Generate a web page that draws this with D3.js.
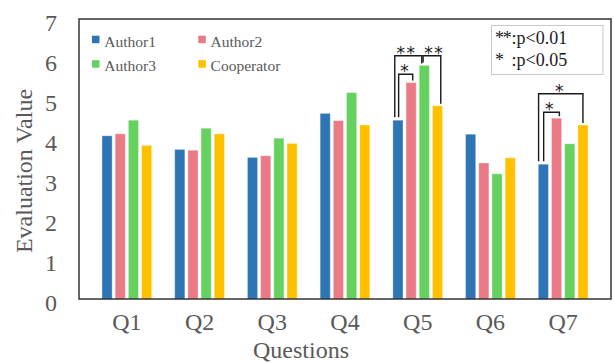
<!DOCTYPE html>
<html>
<head>
<meta charset="utf-8">
<script src="https://cdn.jsdelivr.net/npm/d3@7"></script>
<style>
  html, body { margin: 0; padding: 0; background: #fff; }
  svg { display: block; }
</style>
</head>
<body>
<svg id="chart" width="614" height="363"></svg>
<script>
// Questions on the x axis
const questions = ["Q1", "Q2", "Q3", "Q4", "Q5", "Q6", "Q7"];

// Mean evaluation per rater group
const series = ["Author1", "Author2", "Author3", "Cooperator"];
const author1    = [4.08, 3.74, 3.54, 4.64, 4.47, 4.12, 3.37];
const author2    = [4.13, 3.72, 3.58, 4.46, 5.41, 3.40, 4.52];
const author3    = [4.47, 4.27, 4.02, 5.16, 5.84, 3.13, 3.88];
const cooperator = [3.84, 4.13, 3.89, 4.35, 4.83, 3.53, 4.35];

const yTicks = [0, 1, 2, 3, 4, 5, 6, 7];

// Significance brackets: pair of series compared within a question, bracket level (value units)
const sigPairs = [
  { q: "Q5", a: 0, b: 2, level: 6.08, label: "**" },
  { q: "Q5", a: 0, b: 1, level: 5.62, label: "*" },
  { q: "Q5", a: 2, b: 3, level: 6.08, label: "**" },
  { q: "Q7", a: 0, b: 3, level: 5.13, label: "*" },
  { q: "Q7", a: 0, b: 1, level: 4.67, label: "*" }
];
const sigMarks = ["**", "*"];
const sigNotes = [":p<0.01", ":p<0.05"];

// ---- layout ----
const values = [author1, author2, author3, cooperator];
const colors = ["#2E75B6", "#EA7A85", "#65D15E", "#FFC000"];
// bracket leg positions (fraction of bar width) and label nudge (px)
const legOffsets = [[0.19, 0.25], [0.57, 0.66], [0.38, 0.82], [0.03, 0.5], [0.53, 0.78]];
const labelNudge = [-1.7, -1.2, 2.3, -1.5, -2.3];

const plot = { left: 79, right: 611, top: 19, bottom: 299 };
const svg = d3.select("#chart");
const serif = "'Liberation Serif', 'Times New Roman', serif";
const textGray = "#595959";

const x = d3.scaleBand().domain(questions).range([plot.left, plot.right]).padding(0.316);
const x1 = d3.scaleBand().domain(d3.range(series.length)).range([0, x.bandwidth()]).paddingInner(0.23);
const y = d3.scaleLinear().domain([0, 7]).range([plot.bottom, plot.top]);

// bars
const rows = [];
questions.forEach((q, qi) => series.forEach((s, si) => rows.push({ q, si, v: values[si][qi] })));
svg.append("g").selectAll("rect").data(rows).join("rect")
  .attr("x", d => x(d.q) + x1(d.si))
  .attr("y", d => y(d.v))
  .attr("width", x1.bandwidth())
  .attr("height", d => y(0) - y(d.v))
  .attr("fill", d => colors[d.si])
  .attr("stroke", "rgba(255,255,255,0.35)")
  .attr("stroke-width", 1);

// plot frame
svg.append("rect")
  .attr("x", plot.left).attr("y", plot.top)
  .attr("width", plot.right - plot.left).attr("height", plot.bottom - plot.top)
  .attr("fill", "none").attr("stroke", "#262626").attr("stroke-width", 1.4);

// y axis labels
const yAxis = svg.append("g").attr("transform", `translate(${plot.left},0)`)
  .call(d3.axisLeft(y).tickValues(yTicks).tickSize(0).tickPadding(22).tickFormat(d3.format("d")));
yAxis.select(".domain").remove();
yAxis.selectAll("text")
  .attr("font-family", serif).attr("font-size", 24).attr("fill", textGray)
  .attr("dy", "0.46em");

// x axis labels
const xAxis = svg.append("g").attr("transform", `translate(0,${plot.bottom})`)
  .call(d3.axisBottom(x).tickSize(0).tickPadding(14));
xAxis.select(".domain").remove();
xAxis.selectAll("text")
  .attr("font-family", serif).attr("font-size", 24).attr("fill", textGray)
  .attr("dy", "0.71em");

// axis titles
svg.append("text")
  .attr("transform", "translate(32,171) rotate(-90)")
  .attr("text-anchor", "middle")
  .attr("font-family", serif).attr("font-size", 24).attr("fill", textGray)
  .text("Evaluation Value");
svg.append("text")
  .attr("x", 301).attr("y", 358)
  .attr("text-anchor", "middle")
  .attr("font-family", serif).attr("font-size", 24).attr("fill", textGray)
  .text("Questions");

// legend (2 x 2)
const legend = svg.append("g");
series.forEach((s, i) => {
  const col = i % 2, row = Math.floor(i / 2);
  const lx = 92 + col * 106.3, ly = 35.7 + row * 24.5;
  legend.append("rect").attr("x", lx).attr("y", ly).attr("width", 7.5).attr("height", 7.5)
    .attr("fill", colors[i]);
  legend.append("text").attr("x", lx + 12.3).attr("y", ly + 11)
    .attr("font-family", serif).attr("font-size", 15.5).attr("fill", textGray)
    .text(s);
});

// significance key box
const key = svg.append("g");
key.append("rect").attr("x", 491.5).attr("y", 25.5).attr("width", 111.5).attr("height", 49)
  .attr("fill", "#fff").attr("stroke", "#c8c8c8").attr("stroke-width", 1);
sigMarks.forEach((m, i) => {
  const t = key.append("text").attr("y", 44 + i * 21.5)
    .attr("font-family", serif).attr("font-size", 18).attr("fill", "#1a1a1a");
  t.append("tspan").attr("x", 495).attr("letter-spacing", -1.2).text(m);
  t.append("tspan").attr("x", 511.5).attr("letter-spacing", 0).text(sigNotes[i]);
});

// significance brackets
const bg = svg.append("g");
sigPairs.forEach((p, i) => {
  const qi = questions.indexOf(p.q);
  const bw = x1.bandwidth();
  const xa = x(p.q) + x1(p.a) + bw * legOffsets[i][0];
  const xb = x(p.q) + x1(p.b) + bw * legOffsets[i][1];
  const ya = y(values[p.a][qi]) - 3;
  const yb = y(values[p.b][qi]) - 2;
  const yl = y(p.level);
  bg.append("path")
    .attr("d", `M${xa},${ya}V${yl}H${xb}V${yb}`)
    .attr("fill", "none").attr("stroke", "#1a1a1a").attr("stroke-width", 1.4);
  bg.append("text")
    .attr("x", (xa + xb) / 2 + labelNudge[i]).attr("y", yl + 3)
    .attr("text-anchor", "middle")
    .attr("font-family", "'DejaVu Sans', sans-serif").attr("font-size", 17)
    .attr("letter-spacing", p.label.length > 1 ? 1.5 : 0)
    .attr("fill", "#1a1a1a")
    .text(p.label);
});
</script>
</body>
</html>
